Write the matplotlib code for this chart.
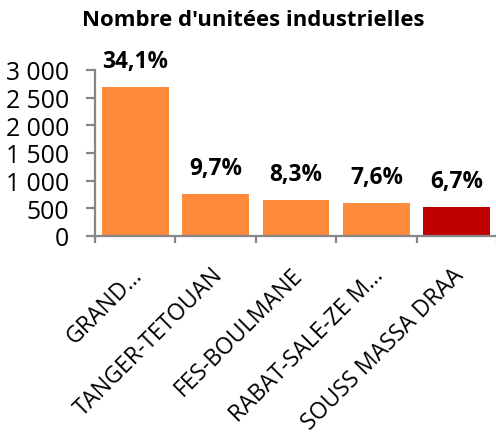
import matplotlib
matplotlib.use("Agg")
import matplotlib.pyplot as plt
from matplotlib.ticker import FixedLocator, FuncFormatter
from matplotlib.transforms import ScaledTranslation

categories = ["GRAND...", "TANGER-TETOUAN", "FES-BOULMANE", "RABAT-SALE-ZE M...", "SOUSS MASSA DRAA"]
values = [2700, 765, 655, 600, 530]
pct_labels = ["34,1%", "9,7%", "8,3%", "7,6%", "6,7%"]
colors = ["#FF8A3B", "#FF8A3B", "#FF8A3B", "#FF8A3B", "#C00000"]
title = "Nombre d'unitées industrielles"

plt.rcParams['font.family'] = ['Open Sans', 'DejaVu Sans']

fig = plt.figure(figsize=(4.96, 4.39), dpi=100)
ax = fig.add_axes([95/496, 1-237/439, 402/496, 166/439])

x = list(range(len(categories)))
ax.bar(x, values, width=0.83, color=colors, zorder=2)
for xi, v, lab in zip(x, values, pct_labels):
    ax.annotate(lab, (xi, v), xytext=(0, 10), textcoords='offset points',
                ha='center', va='bottom', fontsize=16.3, fontweight='bold', color='black')

ax.set_xlim(-0.5, len(categories) - 0.5)
ax.set_ylim(0, 3000)
ax.set_yticks(range(0, 3001, 500))
ax.yaxis.set_major_formatter(FuncFormatter(lambda v, p: f"{int(v):,}".replace(",", " ")))

ax.xaxis.set_major_locator(FixedLocator([i - 0.5 for i in range(len(categories) + 1)]))
ax.xaxis.set_major_formatter(FuncFormatter(lambda v, p: ""))
ax.xaxis.set_minor_locator(FixedLocator(x))
ax.set_xticks(x, categories, minor=True)
ax.tick_params(axis='x', which='minor', length=0, labelsize=16.5, pad=2)
ax.tick_params(axis='x', which='major', length=5, width=1.6, color='#868686', direction='out')
ax.tick_params(axis='y', length=6.5, width=1.6, color='#868686', direction='out', labelsize=17.8, pad=12)

for lbl in ax.get_xticklabels(minor=True):
    lbl.set_rotation(45)
    lbl.set_ha('right')
    lbl.set_va('top')
    lbl.set_rotation_mode('anchor')
    lbl.set_transform(lbl.get_transform() + ScaledTranslation(-5/100, -24/100, fig.dpi_scale_trans))

for s in ['top', 'right']:
    ax.spines[s].set_visible(False)
for s in ['left', 'bottom']:
    ax.spines[s].set_color('#868686')
    ax.spines[s].set_linewidth(1.6)

fig.text(253/496, 1-21/439, title, ha='center', va='center', fontsize=15.9, fontweight='bold')

fig.savefig("out.png", dpi=100)
